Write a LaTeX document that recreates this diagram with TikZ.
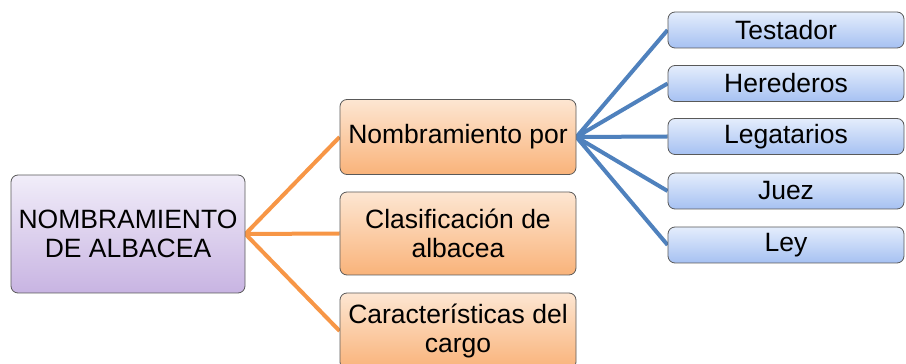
\documentclass[tikz,border=0pt]{standalone}
\usepackage{fontspec}
\setmainfont{Liberation Sans}
\pgfdeclarelayer{background}
\pgfsetlayers{background, main}
\definecolor{lineorange}{HTML}{F79646}
\definecolor{lineblue}{HTML}{4F81BD}
\definecolor{roottop}{HTML}{F1EDF9}
\definecolor{rootbottom}{HTML}{C8B4E2}
\definecolor{midtop}{HTML}{FDE6D2}
\definecolor{midbottom}{HTML}{F9B37A}
\definecolor{leaftop}{HTML}{E4EDFC}
\definecolor{leafbottom}{HTML}{A6C1F2}

\begin{document}
\begin{tikzpicture}[x=1pt, y=1pt,
    box/.style={draw=black!65, line width=0.8pt, rounded corners=7pt, inner sep=0pt,
      align=center, font=\fontsize{26.5}{29}\selectfont, minimum width=236pt},
    rootbox/.style={box, top color=roottop, bottom color=rootbottom},
    midbox/.style={box, top color=midtop, bottom color=midbottom},
    leafbox/.style={box, top color=leaftop, bottom color=leafbottom, minimum height=36pt}]
  \useasboundingbox (0,0) rectangle (906,364);
  \node[rootbox, minimum width=234pt, minimum height=118pt] (R1) at (128, 130) {NOMBRAMIENTO\\DE ALBACEA};
  \node[midbox, minimum height=75pt] (M1) at (458, 227) {Nombramiento por};
  \node[midbox, minimum height=83pt] (M2) at (458, 130.5) {Clasificación de\\albacea};
  \node[midbox, minimum height=76pt] (M3) at (458, 33) {Características del\\cargo};
  \node[leafbox] (L1) at (786, 334) {Testador};
  \node[leafbox] (L2) at (786, 280.5) {Herederos};
  \node[leafbox] (L3) at (786, 227.5) {Legatarios};
  \node[leafbox] (L4) at (786, 173) {Juez};
  \node[leafbox] (L5) at (786, 119) {Ley};
  \begin{pgfonlayer}{background}
    \draw[lineorange, line width=4pt] (R1.east) -- (M1.west) (R1.east) -- (M2.west) (R1.east) -- (M3.west);
    \draw[lineblue, line width=4pt] (M1.east) -- (L1.west) (M1.east) -- (L2.west) (M1.east) -- (L3.west) (M1.east) -- (L4.west) (M1.east) -- (L5.west);
  \end{pgfonlayer}
\end{tikzpicture}
\end{document}
